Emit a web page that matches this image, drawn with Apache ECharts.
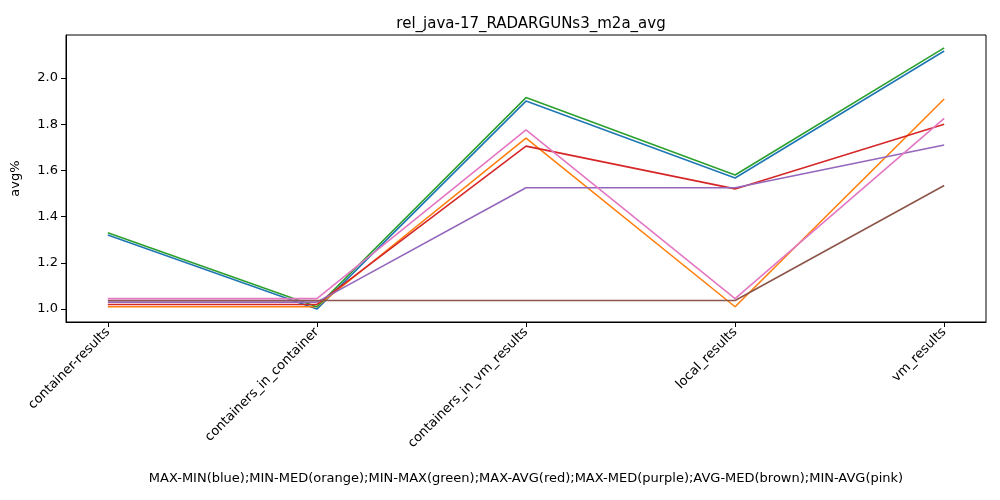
<!DOCTYPE html>
<html>
<head>
<meta charset="utf-8">
<script src="https://cdn.jsdelivr.net/npm/echarts@6/dist/echarts.min.js"></script>
<style>html,body{margin:0;padding:0;background:#fff}#chart{width:1000px;height:500px}</style>
</head>
<body>
<div id="chart"></div>
<script>
const categories = ['container-results', 'containers_in_container', 'containers_in_vm_results', 'local_results', 'vm_results'];
const seriesNames = ['MAX-MIN', 'MIN-MED', 'MIN-MAX', 'MAX-AVG', 'MAX-MED', 'AVG-MED', 'MIN-AVG'];
const maxMin = [1.32, 1.00, 1.90, 1.567, 2.117];
const minMed = [1.01, 1.01, 1.74, 1.01, 1.909];
const minMax = [1.33, 1.01, 1.915, 1.58, 2.13];
const maxAvg = [1.02, 1.02, 1.705, 1.52, 1.80];
const maxMed = [1.03, 1.03, 1.525, 1.525, 1.71];
const avgMed = [1.037, 1.037, 1.037, 1.037, 1.535];
const minAvg = [1.045, 1.045, 1.775, 1.045, 1.825];
const yTicks = [1.0, 1.2, 1.4, 1.6, 1.8, 2.0];
const colors = ['#1f77b4', '#ff7f0e', '#2ca02c', '#d62728', '#9467bd', '#8c564b', '#e377c2'];

const allValues = [maxMin, minMed, minMax, maxAvg, maxMed, avgMed, minAvg];
const font = 'DejaVu Sans';

const chart = echarts.init(document.getElementById('chart'));
chart.setOption({
  animation: false,
  textStyle: { fontFamily: font },
  title: {
    text: 'rel_java-17_RADARGUNs3_m2a_avg',
    left: 526, top: 12, textAlign: 'center',
    textStyle: { fontFamily: font, fontSize: 15, fontWeight: 'normal', color: '#000' },
  },
  grid: { left: 66, right: 14, top: 35, bottom: 178, show: true, borderColor: '#000', borderWidth: 1 },
  xAxis: {
    type: 'value', min: -0.2, max: 4.2,
    name: 'MAX-MIN(blue);MIN-MED(orange);MIN-MAX(green);MAX-AVG(red);MAX-MED(purple);AVG-MED(brown);MIN-AVG(pink)',
    nameLocation: 'middle', nameGap: 150,
    nameTextStyle: { fontFamily: font, fontSize: 13, color: '#000' },
    splitLine: { show: false },
    axisLine: { onZero: false, lineStyle: { color: '#000' } },
    axisTick: { customValues: [0, 1, 2, 3, 4], length: 5, lineStyle: { color: '#000' } },
    axisLabel: {
      customValues: [0, 1, 2, 3, 4], rotate: 45, color: '#000', fontSize: 13, margin: 8,
      formatter: v => categories[Math.round(v)],
    },
  },
  yAxis: {
    type: 'value', min: 0.944, max: 2.186,
    name: 'avg%', nameLocation: 'middle', nameGap: 44,
    nameTextStyle: { fontFamily: font, fontSize: 13, color: '#000' },
    splitLine: { show: false },
    axisLine: { show: true, onZero: false, lineStyle: { color: '#000' } },
    axisTick: { show: true, customValues: yTicks, length: 5, lineStyle: { color: '#000' } },
    axisLabel: { customValues: yTicks, color: '#000', fontSize: 13, formatter: v => v.toFixed(1) },
  },
  series: allValues.map((vals, i) => ({
    name: seriesNames[i],
    type: 'line',
    data: vals.map((v, j) => [j, v]),
    showSymbol: false,
    lineStyle: { color: colors[i], width: 1.6 },
    itemStyle: { color: colors[i] },
  })),
});
</script>
</body>
</html>
